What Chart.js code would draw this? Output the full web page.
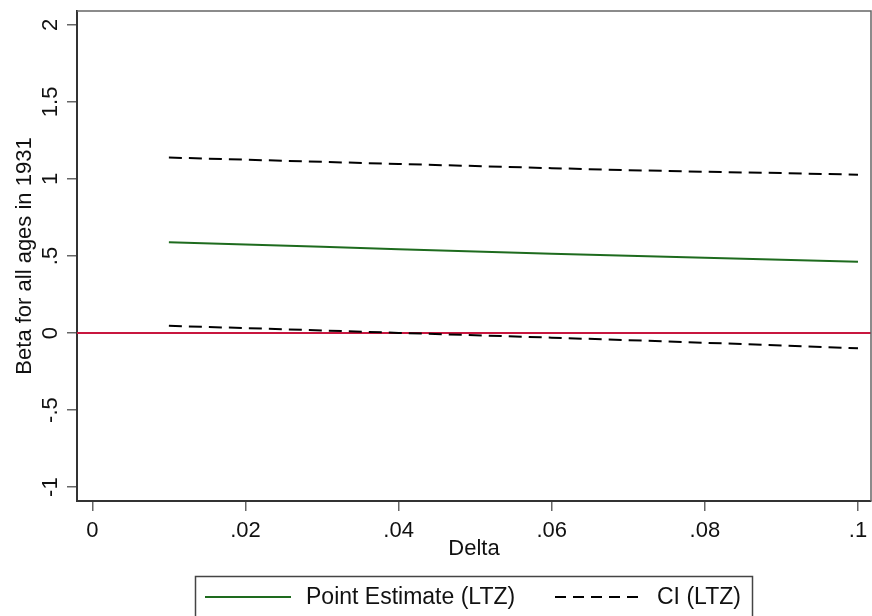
<!DOCTYPE html>
<html>
<head>
<meta charset="utf-8">
<script src="https://cdn.jsdelivr.net/npm/chart.js@4.4.1/dist/chart.umd.min.js"></script>
<style>
  html, body { margin: 0; padding: 0; background: #fff; }
  #wrap { width: 872px; height: 616px; }
</style>
</head>
<body>
<div id="wrap"><canvas id="chart" width="872" height="616"></canvas></div>
<script>
// values
const deltas = [0.01, 0.02, 0.03, 0.04, 0.05, 0.06, 0.07, 0.08, 0.09, 0.10];
const pointEstimate = [0.590, 0.575, 0.560, 0.544, 0.529, 0.515, 0.502, 0.488, 0.475, 0.462];
const ciUpper = [1.139, 1.125, 1.111, 1.097, 1.084, 1.070, 1.057, 1.047, 1.038, 1.028];
const ciLower = [0.047, 0.032, 0.017, 0.001, -0.014, -0.030, -0.046, -0.063, -0.081, -0.099];
const xTicks = [0, 0.02, 0.04, 0.06, 0.08, 0.1];
const yTicks = [-1, -0.5, 0, 0.5, 1, 1.5, 2];
const zeroLine = 0;

const FONT = "'Liberation Sans', Arial, sans-serif";
const GREEN = '#1e6b1e';
const RED = '#c8163f';

function toPoints(ys) {
    return deltas.map((d, i) => ({ x: d, y: ys[i] }));
}

// Stata style number labels: .02, -.5
function fmt(v) {
    const s = String(+Number(v).toFixed(3));
    return s.replace(/^(-?)0\./, '$1.');
}

// red reference line at y = 0, under the data
const refLine = {
    id: 'refLine',
    beforeDatasetsDraw(chart) {
        const { ctx, chartArea, scales } = chart;
        const y = scales.y.getPixelForValue(zeroLine);
        ctx.save();
        ctx.strokeStyle = RED;
        ctx.lineWidth = 2;
        ctx.beginPath();
        ctx.moveTo(chartArea.left, y);
        ctx.lineTo(chartArea.right, y);
        ctx.stroke();
        ctx.restore();
    }
};

// frame round the plot region + boxed legend at the bottom
const frameAndLegend = {
    id: 'frameAndLegend',
    afterDraw(chart) {
        const { ctx, chartArea } = chart;
        ctx.save();
        ctx.strokeStyle = '#666';
        ctx.lineWidth = 1.5;
        ctx.beginPath();
        ctx.moveTo(chartArea.left, chartArea.top);
        ctx.lineTo(chartArea.right, chartArea.top);
        ctx.lineTo(chartArea.right, chartArea.bottom);
        ctx.stroke();

        // legend
        ctx.strokeStyle = '#444';
        ctx.lineWidth = 1.5;
        ctx.strokeRect(195.5, 576.5, 557, 60);
        const ly = 597;
        const items = [
            { ds: chart.data.datasets[0], x0: 205, x1: 291, tx: 306, dash: [] },
            { ds: chart.data.datasets[1], x0: 555, x1: 641, tx: 657, dash: [11, 7] }
        ];
        ctx.font = '23px ' + FONT;
        ctx.textBaseline = 'middle';
        ctx.fillStyle = '#111';
        items.forEach(it => {
            ctx.strokeStyle = it.ds.borderColor;
            ctx.lineWidth = 2;
            ctx.setLineDash(it.dash);
            ctx.beginPath();
            ctx.moveTo(it.x0, ly);
            ctx.lineTo(it.x1, ly);
            ctx.stroke();
            ctx.setLineDash([]);
            ctx.fillText(it.ds.label, it.tx, ly + 1);
        });
        ctx.restore();
    }
};

const ctx = document.getElementById('chart').getContext('2d');
new Chart(ctx, {
    type: 'line',
    data: {
        datasets: [
            {
                label: 'Point Estimate (LTZ)',
                data: toPoints(pointEstimate),
                borderColor: GREEN,
                borderWidth: 2,
                pointRadius: 0,
                tension: 0
            },
            {
                label: 'CI (LTZ)',
                data: toPoints(ciUpper),
                borderColor: '#000',
                borderWidth: 2,
                borderDash: [13, 7],
                pointRadius: 0,
                tension: 0
            },
            {
                label: 'CI (LTZ)',
                data: toPoints(ciLower),
                borderColor: '#000',
                borderWidth: 2,
                borderDash: [13, 7],
                pointRadius: 0,
                tension: 0
            }
        ]
    },
    options: {
        responsive: false,
        animation: false,
        devicePixelRatio: 1,
        layout: { padding: { top: 11, right: 1, left: 0, bottom: 0 } },
        plugins: {
            legend: { display: false },
            tooltip: { enabled: false }
        },
        scales: {
            x: {
                type: 'linear',
                min: -0.002,
                max: 0.1017,
                afterFit: function(scale) {
                    scale.height = 115;
                    scale.paddingLeft = 0;
                    scale.paddingRight = 0;
                },
                afterBuildTicks: function(scale) {
                    scale.ticks = xTicks.map(v => ({ value: v }));
                },
                border: { display: true, color: '#333', width: 2 },
                grid: { drawOnChartArea: false, drawTicks: true, tickLength: 10, color: '#666', lineWidth: 1.5 },
                ticks: {
                    font: { family: FONT, size: 22 },
                    color: '#111',
                    padding: 7,
                    maxRotation: 0,
                    callback: function(value) { return fmt(value); }
                },
                title: {
                    display: true,
                    text: 'Delta',
                    font: { family: FONT, size: 22 },
                    color: '#111',
                    padding: { top: 0, bottom: 54 }
                }
            },
            y: {
                type: 'linear',
                min: -1.09,
                max: 2.09,
                afterFit: function(scale) {
                    scale.width = 77;
                    scale.paddingTop = 0;
                    scale.paddingBottom = 0;
                },
                afterBuildTicks: function(scale) {
                    scale.ticks = yTicks.map(v => ({ value: v }));
                },
                border: { display: true, color: '#333', width: 2 },
                grid: { drawOnChartArea: false, drawTicks: true, tickLength: 10, color: '#666', lineWidth: 1.5 },
                ticks: {
                    font: { family: FONT, size: 22 },
                    color: '#111',
                    padding: 1,
                    minRotation: 90,
                    maxRotation: 90,
                    crossAlign: 'center',
                    callback: function(value) { return fmt(value); }
                },
                title: {
                    display: true,
                    text: 'Beta for all ages in 1931',
                    font: { family: FONT, size: 22 },
                    color: '#111',
                    padding: { top: 12, bottom: 0 }
                }
            }
        }
    },
    plugins: [refLine, frameAndLegend]
});
</script>
</body>
</html>
